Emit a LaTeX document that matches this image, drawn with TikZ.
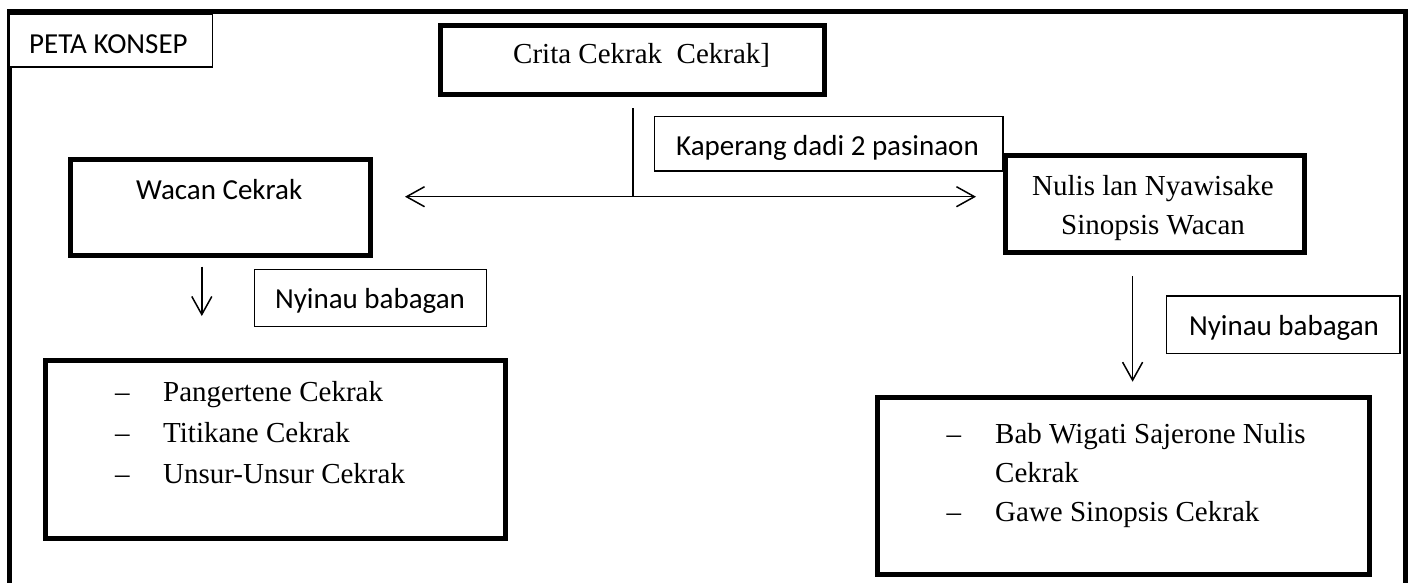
\documentclass[tikz,border=0pt]{standalone}
\usepackage{fontspec}
\setmainfont{Liberation Serif}
\newfontfamily\carlito{Carlito}
\usetikzlibrary{arrows.meta}
\tikzset{
  thickbox/.style={draw, line width=5pt, fill=white, inner sep=0pt},
  thinbox/.style={draw, line width=1.2pt, fill=white, inner sep=0pt},
  frameline/.style={line width=4.7pt, line join=miter},
  conn/.style={line width=1.5pt},
  barb/.style={Straight Barb[length=18pt,width=20pt,line width=1.5pt]},
  tip/.style={-{Straight Barb[length=18pt,width=20pt,line width=1.5pt]}},
  serif/.style={inner sep=0pt, font=\fontsize{29}{35}\selectfont},
  sans/.style={inner sep=0pt, font=\carlito\fontsize{29}{35}\selectfont},
}
\begin{document}
\begin{tikzpicture}[x=1pt,y=-1pt]
\useasboundingbox (0,0) rectangle (1414,582);
\clip (0,0) rectangle (1414,582);
\fill[white] (0,0) rectangle (1414,582);
% outer frame
\draw[frameline] (9.5,620) -- (9.5,11.7) -- (1405.5,11.7) -- (1405.5,620);
% boxes
\node[thinbox, minimum width=203.5pt, minimum height=53pt] (peta) at (110.75,40.5) {};
\node[thickbox, minimum width=384pt, minimum height=69pt] (crita) at (632,60) {};
\node[thickbox, minimum width=300pt, minimum height=96pt] (wacan) at (220,207) {};
\node[thinbox, minimum width=348.4pt, minimum height=54.3pt] (kaperang) at (828.8,143.85) {};
\node[thickbox, minimum width=299pt, minimum height=97pt] (nulis) at (1154.5,203.5) {};
\node[thinbox, minimum width=232.1pt, minimum height=57.4pt] (nyinauL) at (370.55,298) {};
\node[thinbox, minimum width=233.5pt, minimum height=57.3pt] (nyinauR) at (1283.25,324.65) {};
\node[thickbox, minimum width=460.5pt, minimum height=178pt] (listL) at (275.25,449) {};
\node[thickbox, minimum width=492pt, minimum height=177.5pt] (listR) at (1123,485.75) {};
% texts
\node[sans, anchor=base west] (tpeta) at (29,53.3) {PETA KONSEP};
\node[serif, anchor=base west] (tcrita) at (513,63.3) {Crita Cekrak\ \ Cekrak]};
\node[sans, anchor=base west] (twacan) at (136,199.3) {Wacan Cekrak};
\node[sans, anchor=base west] (tkaperang) at (676,155) {Kaperang dadi 2 pasinaon};
\node[serif, anchor=base] (tnulisA) at (1153,195) {Nulis lan Nyawisake};
\node[serif, anchor=base] (tnulisB) at (1153,234) {Sinopsis Wacan};
\node[sans, anchor=base] (tnyL) at (370,308.5) {Nyinau babagan};
\node[sans, anchor=base] (tnyR) at (1284,335) {Nyinau babagan};
\node[serif, anchor=base west] (dL1) at (115,401.7) {–};
\node[serif, anchor=base west] (iL1) at (163,401.7) {Pangertene Cekrak};
\node[serif, anchor=base west] (dL2) at (115,442) {–};
\node[serif, anchor=base west] (iL2) at (163,442) {Titikane Cekrak};
\node[serif, anchor=base west] (dL3) at (115,483) {–};
\node[serif, anchor=base west] (iL3) at (163,483) {Unsur-Unsur Cekrak};
\node[serif, anchor=base west] (dR1) at (946.5,443.3) {–};
\node[serif, anchor=base west] (iR1) at (995,443.3) {Bab Wigati Sajerone Nulis};
\node[serif, anchor=base west] (iR1b) at (995,482) {Cekrak};
\node[serif, anchor=base west] (dR2) at (946.5,521.7) {–};
\node[serif, anchor=base west] (iR2) at (995,521.7) {Gawe Sinopsis Cekrak};
% connectors
\coordinate (c1) at (633,108);
\coordinate (j) at (633,196.7);
\coordinate (aL) at (405,196.7);
\coordinate (aR) at (976,196.7);
\coordinate (dLs) at (201.8,266.7);
\coordinate (dLe) at (201.8,316);
\coordinate (dRs) at (1132.6,276);
\coordinate (dRe) at (1132.6,381.7);
\draw[conn] (c1) -- (j);
\draw[conn, {Straight Barb[length=18pt,width=20pt,line width=1.5pt]}-{Straight Barb[length=18pt,width=20pt,line width=1.5pt]}] (aL) -- (aR);
\draw[conn, tip] (dLs) -- (dLe);
\draw[conn, tip] (dRs) -- (dRe);
\end{tikzpicture}
\end{document}
